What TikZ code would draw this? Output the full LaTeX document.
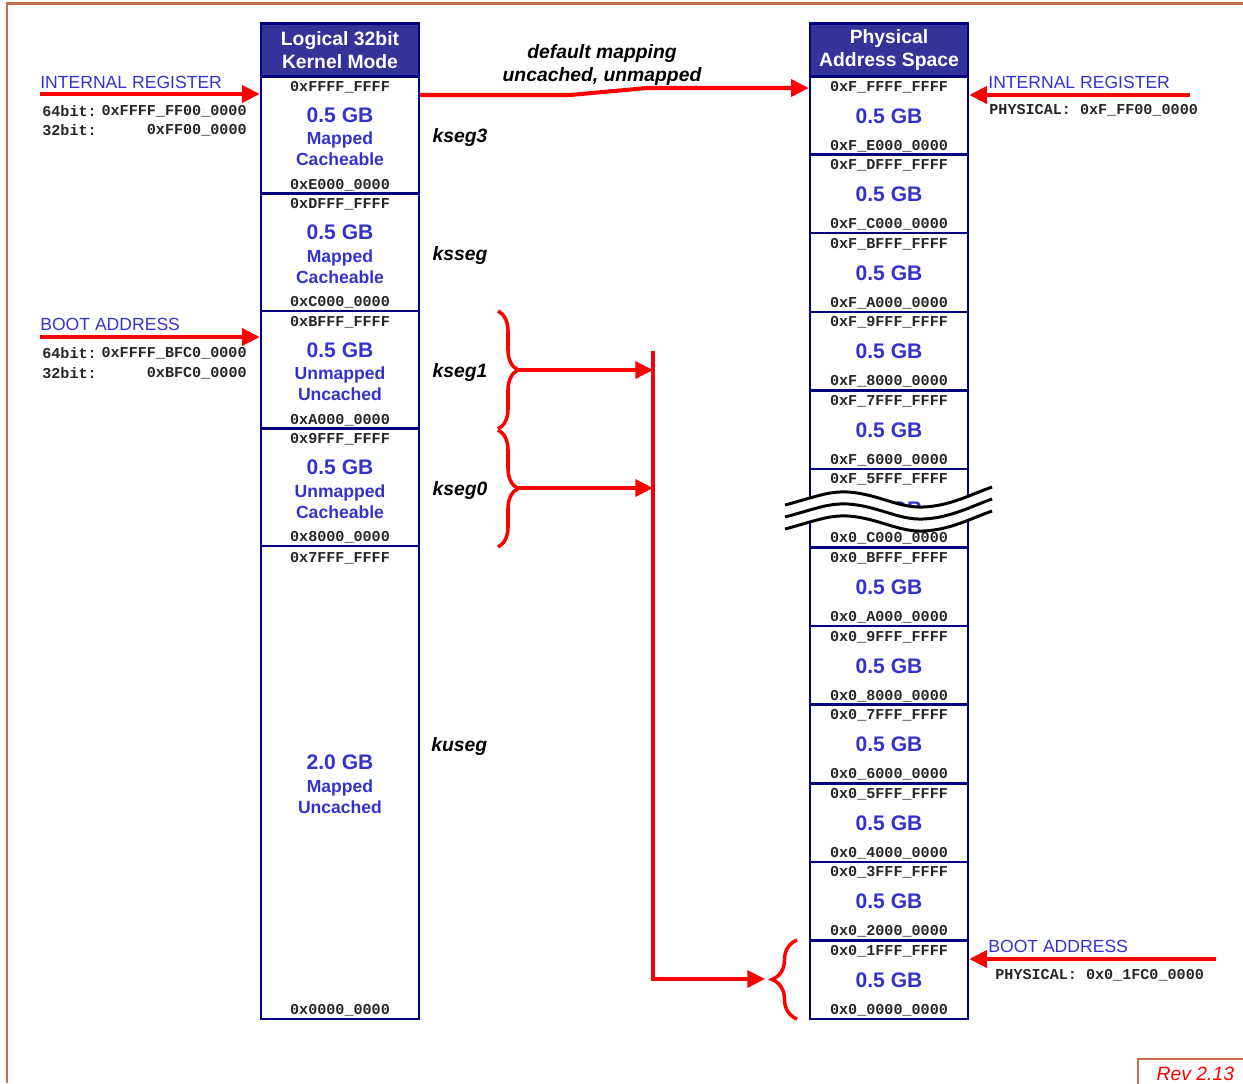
\documentclass[tikz,border=0pt]{standalone}
\usepackage{fontspec}
\setmainfont{Liberation Sans}
\setmonofont{Liberation Mono}
\usetikzlibrary{arrows.meta,decorations.pathreplacing}

\definecolor{navy}{RGB}{0,0,128}
\definecolor{hdrblue}{RGB}{51,51,153}
\definecolor{gbblue}{RGB}{51,51,204}
\definecolor{framebrown}{RGB}{192,112,72}

\tikzset{
  hdr/.style={fill=hdrblue, draw=navy, line width=1.4pt, text=white, align=center,
    font=\bfseries\fontsize{11}{13}\selectfont, minimum width=3.16cm, minimum height=1.06cm, inner sep=0pt},
  seg/.style={draw=navy, line width=1.4pt, minimum width=3.16cm, inner sep=0pt},
  addr/.style={font=\ttfamily\bfseries\fontsize{8.6}{10}\selectfont, text=black!85, inner sep=0pt, anchor=mid, yshift=-0.8pt},
  gb/.style={font=\bfseries\fontsize{12}{14}\selectfont, text=gbblue, inner sep=0pt, anchor=mid, yshift=-1.4pt},
  attr/.style={font=\bfseries\fontsize{10}{12}\selectfont, text=gbblue, inner sep=0pt, anchor=mid, yshift=-1.2pt},
  seglabel/.style={font=\bfseries\itshape\fontsize{11}{13}\selectfont, inner sep=0pt, anchor=west, yshift=-1.6pt},
  note/.style={font=\fontsize{10}{12}\selectfont, text=gbblue, inner sep=0pt, anchor=west},
  regval/.style={font=\ttfamily\bfseries\fontsize{8.6}{10}\selectfont, text=black!85, inner sep=0pt},
  redarrow/.style={draw=red, line width=2.3pt, -{Triangle[length=10pt,width=9.5pt]}},
  redbrace/.style={draw=red, line width=2pt, decorate, decoration={brace,amplitude=0.4cm}},
  wave/.style={draw=black, line width=1.7pt}
}

\begin{document}
\begin{tikzpicture}[x=0.02cm,y=-0.02cm]
\useasboundingbox (0,0) rectangle (1243,1083);
\draw[framebrown, line width=1.2pt] (7,1083) -- (7,3.5) -- (1243,3.5);

% logical column
\node[hdr] (L0) at (340,50) {Logical 32bit\\Kernel Mode};
\foreach \n/\t/\hi/\lo/\a/\b in {L1/76/0xFFFF\_FFFF/0xE000\_0000/Mapped/Cacheable,
    L2/193.5/0xDFFF\_FFFF/0xC000\_0000/Mapped/Cacheable,
    L3/311/0xBFFF\_FFFF/0xA000\_0000/Unmapped/Uncached,
    L4/428.5/0x9FFF\_FFFF/0x8000\_0000/Unmapped/Cacheable}{
  \node[seg, minimum height=2.35cm] (\n) at (340,{\t+58.75}) {};
  \node[addr] at (340,{\t+9}) {\hi};
  \node[gb] at (340,{\t+39}) {0.5 GB};
  \node[attr] at (340,{\t+62}) {\a};
  \node[attr] at (340,{\t+83}) {\b};
  \node[addr] at (340,{\t+107}) {\lo};
}
\node[seg, minimum height=9.46cm] (L5) at (340,782.5) {};
\node[addr] at (340,556) {0x7FFF\_FFFF};
\node[gb] at (340,762) {2.0 GB};
\node[attr] at (340,786) {Mapped};
\node[attr] at (340,807) {Uncached};
\node[addr] at (340,1008) {0x0000\_0000};

\node[seglabel] (kseg3) at ([xshift=0.24cm]L1.east) {kseg3};
\node[seglabel] (ksseg) at ([xshift=0.24cm]L2.east) {ksseg};
\node[seglabel] (kseg1) at ([xshift=0.24cm]L3.east) {kseg1};
\node[seglabel] (kseg0) at ([xshift=0.24cm]L4.east) {kseg0};
\node[seglabel] (kuseg) at (431,744) {kuseg};

% physical column
\node[hdr] (P) at (889,50) {Physical\\Address Space};
\foreach \i/\hi/\lo in {0/0xF\_FFFF\_FFFF/0xF\_E000\_0000, 1/0xF\_DFFF\_FFFF/0xF\_C000\_0000,
    2/0xF\_BFFF\_FFFF/0xF\_A000\_0000, 3/0xF\_9FFF\_FFFF/0xF\_8000\_0000,
    4/0xF\_7FFF\_FFFF/0xF\_6000\_0000, 5/0xF\_5FFF\_FFFF/0x0\_C000\_0000,
    6/0x0\_BFFF\_FFFF/0x0\_A000\_0000, 7/0x0\_9FFF\_FFFF/0x0\_8000\_0000,
    8/0x0\_7FFF\_FFFF/0x0\_6000\_0000, 9/0x0\_5FFF\_FFFF/0x0\_4000\_0000,
    10/0x0\_3FFF\_FFFF/0x0\_2000\_0000, 11/0x0\_1FFF\_FFFF/0x0\_0000\_0000}{
  \node[seg, minimum height=1.5717cm] (P\i) at (889,{76+\i*78.583+39.29}) {};
  \node[addr] at (889,{76+\i*78.583+9}) {\hi};
  \node[gb] at (889,{76+\i*78.583+40}) {0.5 GB};
  \node[addr] at (889,{76+\i*78.583+68}) {\lo};
}

% break in the address range
\fill[white] (785,505) .. controls (815,497) and (828,491) .. (848,492)
  .. controls (878,494) and (898,508) .. (923,507) .. controls (950,506) and (972,494) .. (992,487)
  -- (992,511) .. controls (972,518) and (950,530) .. (923,531)
  .. controls (898,532) and (878,518) .. (848,516) .. controls (828,515) and (815,521) .. (785,529) -- cycle;
\foreach \d in {0,12,24}{
  \begin{scope}[shift={(0,\d)}]
    \draw[wave] (785,505) .. controls (815,497) and (828,491) .. (848,492)
      .. controls (878,494) and (898,508) .. (923,507) .. controls (950,506) and (972,494) .. (992,487);
  \end{scope}
}

% default mapping
\coordinate (m1) at (570,95);
\coordinate (m2) at (647,88);
\draw[redarrow] (L1.east |- m1) -- (m1) -- (m2) -- (P0.west |- m2);
\node[font=\bfseries\itshape\fontsize{11}{13.5}\selectfont, align=center] (map) at (602,65) {default mapping\\uncached, unmapped};

% kseg0 / kseg1 to boot segment
\draw[redbrace] (498,311) -- (498,429);
\draw[redbrace] (498,430) -- (498,547);
\coordinate (k1) at (518,370);
\coordinate (k0) at (518,488);
\coordinate (bustop) at (653,351);
\coordinate (busend) at (653,979);
\draw[redarrow] (k1) -- (k1 -| bustop);
\draw[redarrow] (k0) -- (k0 -| bustop);
\draw[redarrow] (bustop) -- (busend) -- (765,979);
\draw[redbrace, decoration={brace,amplitude=0.5cm}] (797,1019) -- (797,940);

% internal register / boot address
\coordinate (irl) at (40,94);
\draw[redarrow] (irl) -- (irl -| L1.west);
\node[note] (irltext) at (40,82) {INTERNAL REGISTER};
\node[regval, anchor=west] at (42,111) {64bit:};
\node[regval, anchor=east] at (247,111) {0xFFFF\_FF00\_0000};
\node[regval, anchor=west] at (42,130) {32bit:};
\node[regval, anchor=east] at (247,130) {0xFF00\_0000};

\coordinate (bal) at (40,337);
\draw[redarrow] (bal) -- (bal -| L3.west);
\node[note] (baltext) at (40,324) {BOOT ADDRESS};
\node[regval, anchor=west] at (42,353) {64bit:};
\node[regval, anchor=east] at (247,353) {0xFFFF\_BFC0\_0000};
\node[regval, anchor=west] at (42,373) {32bit:};
\node[regval, anchor=east] at (247,373) {0xBFC0\_0000};

\coordinate (irr) at (1190,95);
\draw[redarrow] (irr) -- (irr -| P0.east);
\node[note] (irrtext) at (988,82) {INTERNAL REGISTER};
\node[regval, anchor=west] at (989,110) {PHYSICAL: 0xF\_FF00\_0000};

\coordinate (bar) at (1216,959);
\draw[redarrow] (bar) -- (bar -| P11.east);
\node[note] (bartext) at (988,946) {BOOT ADDRESS};
\node[regval, anchor=west] at (995,975) {PHYSICAL: 0x0\_1FC0\_0000};

\node[draw=framebrown, line width=1pt, text=red, font=\itshape\fontsize{11}{13}\selectfont,
  anchor=north west, minimum width=2.3cm, minimum height=0.6cm] (rev) at (1137,1058) {Rev 2.13};
\end{tikzpicture}
\end{document}
